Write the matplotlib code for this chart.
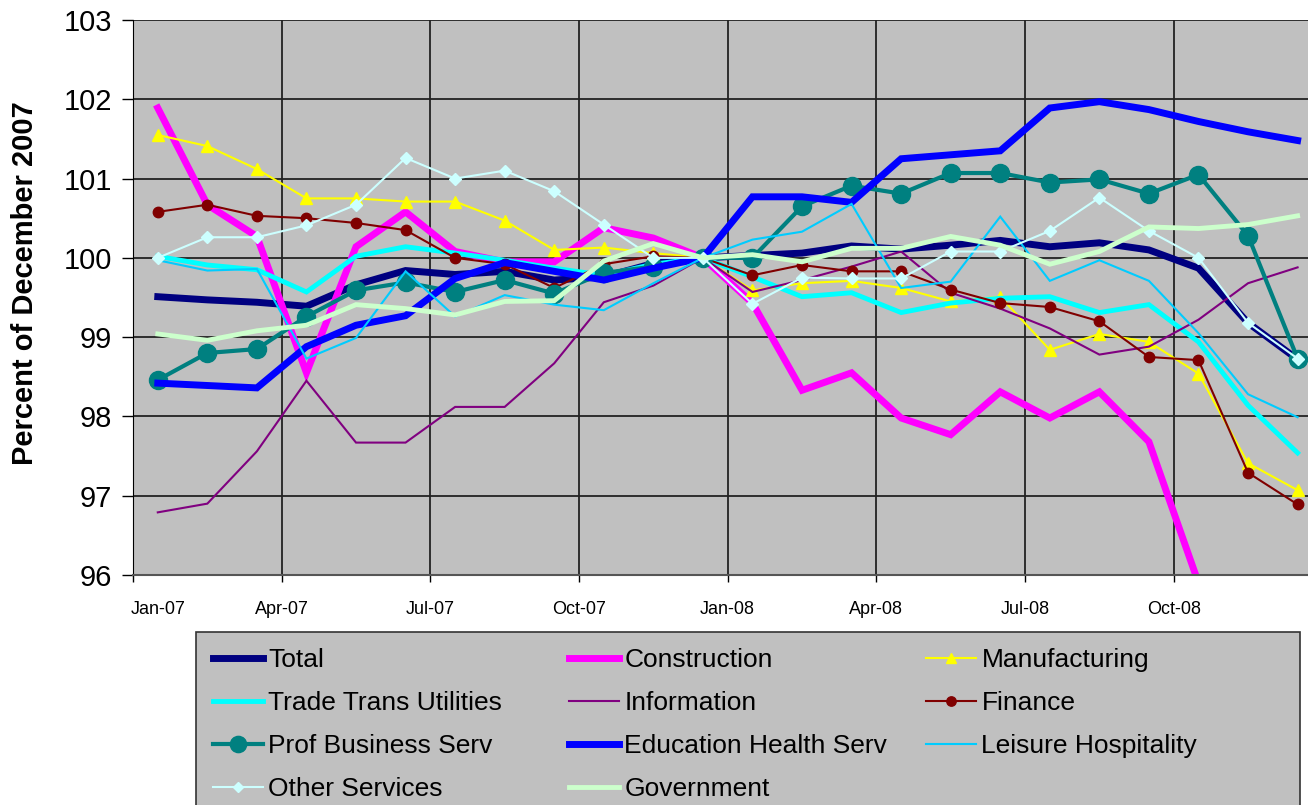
import matplotlib
matplotlib.use("Agg")
import matplotlib.pyplot as plt
from matplotlib.patches import Rectangle
from matplotlib.transforms import ScaledTranslation

plt.rcParams['font.family'] = ['Liberation Sans', 'DejaVu Sans']

months = list(range(24))  # Jan-07 .. Dec-08
tick_labels = ['Jan-07', 'Apr-07', 'Jul-07', 'Oct-07', 'Jan-08', 'Apr-08', 'Jul-08', 'Oct-08']

total = [99.51, 99.47, 99.44, 99.39, 99.66, 99.84, 99.79, 99.83, 99.72, 99.76, 99.93, 100.0,
         100.03, 100.06, 100.15, 100.11, 100.16, 100.22, 100.14, 100.19, 100.10, 99.87, 99.18, 98.72]
construction = [101.89, 100.67, 100.27, 98.55, 100.14, 100.58, 100.08, 99.95, 99.95, 100.38, 100.25, 100.0,
                99.43, 98.33, 98.55, 97.98, 97.77, 98.31, 97.98, 98.31, 97.68, 95.9, 94.9, 94.2]
manufacturing = [101.55, 101.41, 101.12, 100.75, 100.75, 100.71, 100.71, 100.47, 100.10, 100.13, 100.06, 100.0,
                 99.59, 99.68, 99.71, 99.62, 99.45, 99.51, 98.84, 99.04, 98.94, 98.54, 97.41, 97.07]
trade = [100.02, 99.91, 99.85, 99.57, 100.02, 100.14, 100.06, 99.97, 99.87, 99.78, 99.92, 100.0,
         99.76, 99.51, 99.56, 99.31, 99.43, 99.49, 99.51, 99.31, 99.41, 98.94, 98.14, 97.54]
information = [96.79, 96.90, 97.56, 98.45, 97.67, 97.67, 98.12, 98.12, 98.67, 99.44, 99.65, 100.0,
               99.57, 99.72, 99.89, 100.08, 99.56, 99.36, 99.11, 98.78, 98.88, 99.22, 99.68, 99.88]
finance = [100.58, 100.67, 100.53, 100.50, 100.44, 100.35, 100.00, 99.92, 99.62, 99.92, 100.02, 100.0,
           99.78, 99.91, 99.83, 99.83, 99.60, 99.43, 99.38, 99.20, 98.75, 98.71, 97.29, 96.89]
prof_business = [98.46, 98.80, 98.85, 99.26, 99.59, 99.69, 99.57, 99.72, 99.55, 99.81, 99.89, 100.0,
                 100.0, 100.65, 100.91, 100.81, 101.07, 101.07, 100.95, 100.99, 100.81, 101.05, 100.28, 98.73]
education = [98.42, 98.39, 98.36, 98.88, 99.15, 99.27, 99.74, 99.94, 99.83, 99.72, 99.87, 100.0,
             100.77, 100.77, 100.70, 101.25, 101.30, 101.35, 101.89, 101.97, 101.87, 101.72, 101.59, 101.48]
leisure = [99.97, 99.84, 99.86, 98.73, 98.99, 99.83, 99.26, 99.53, 99.41, 99.34, 99.68, 100.0,
           100.23, 100.33, 100.68, 99.62, 99.70, 100.52, 99.71, 99.97, 99.71, 99.05, 98.28, 97.99]
other_services = [100.0, 100.26, 100.26, 100.41, 100.67, 101.26, 101.0, 101.1, 100.84, 100.42, 100.0, 100.0,
                  99.42, 99.75, 99.74, 99.74, 100.08, 100.08, 100.34, 100.76, 100.34, 100.0, 99.18, 98.73]
government = [99.04, 98.96, 99.08, 99.15, 99.41, 99.36, 99.28, 99.45, 99.46, 99.96, 100.18, 100.0,
              100.04, 99.95, 100.12, 100.12, 100.27, 100.16, 99.92, 100.08, 100.39, 100.37, 100.42, 100.53]

series = [
    ('Total', total, dict(color='#000080', lw=5)),
    ('Construction', construction, dict(color='#FF00FF', lw=5)),
    ('Manufacturing', manufacturing, dict(color='#FFFF00', lw=1.5, marker='^', ms=8)),
    ('Trade Trans Utilities', trade, dict(color='#00FFFF', lw=3.5)),
    ('Information', information, dict(color='#800080', lw=1.5)),
    ('Finance', finance, dict(color='#800000', lw=1.5, marker='o', ms=7.5)),
    ('Prof Business Serv', prof_business, dict(color='#008080', lw=3, marker='o', ms=13)),
    ('Education Health Serv', education, dict(color='#0000FF', lw=5)),
    ('Leisure Hospitality', leisure, dict(color='#00CCFF', lw=1.5)),
    ('Other Services', other_services, dict(color='#CCFFFF', lw=1.5, marker='D', ms=6)),
    ('Government', government, dict(color='#CCFFCC', lw=3.5)),
]

W, H = 1308, 805
fig = plt.figure(figsize=(W / 100, H / 100), dpi=100)
fig.patch.set_facecolor('white')
ax = fig.add_axes([133 / W, (H - 575) / H, (W - 133) / W, 555 / H])
ax.set_facecolor('#C0C0C0')

handles = {}
for name, vals, st in series:
    ln, = ax.plot(months, vals, solid_joinstyle='miter', markeredgecolor=st['color'],
                  markerfacecolor=st['color'], label=name, **st)
    handles[name] = ln

ax.set_ylim(96, 103)
ax.set_xlim(-0.5, 23.21)
ax.set_yticks(range(96, 104))
ax.yaxis.grid(True, color='#222222', lw=1.3)
for xv in [2.5, 5.5, 8.5, 11.5, 14.5, 17.5, 20.5]:
    ax.axvline(xv, color='#222222', lw=1.3, zorder=0.5)
ax.set_axisbelow(True)

ax.set_xticks([-0.5, 2.5, 5.5, 8.5, 11.5, 14.5, 17.5, 20.5])
ax.set_xticklabels(tick_labels)
ax.tick_params(axis='x', length=5, width=1, labelsize=13, pad=14, direction='out')
ax.tick_params(axis='y', length=8, width=1, labelsize=21, pad=7, direction='out')
first = ax.get_xticklabels()[0]
first.set_transform(first.get_transform() + ScaledTranslation(0.25, 0, fig.dpi_scale_trans))

for s in ['top', 'right']:
    ax.spines[s].set_visible(False)
ax.spines['left'].set_color('black')
ax.spines['bottom'].set_color('#555555')
ax.spines['bottom'].set_linewidth(1.5)

fig.text(25 / W, 1 - 283 / H, 'Percent of December 2007', rotation=90, fontsize=21,
         fontweight='bold', ha='center', va='center')

# legend box
fig.patches.append(Rectangle((196 / W, -0.05), (1300 - 196) / W, 0.05 + (H - 632) / H,
                             transform=fig.transFigure, facecolor='#C0C0C0',
                             edgecolor='#333333', lw=1.2, zorder=0))

cols = [
    (['Total', 'Trade Trans Utilities', 'Prof Business Serv', 'Other Services'], 213),
    (['Construction', 'Information', 'Education Health Serv', 'Government'], 569),
    (['Manufacturing', 'Finance', 'Leisure Hospitality'], 926),
]
for names, x0 in cols:
    fig.legend([handles[n] for n in names], names, loc='upper left',
               bbox_to_anchor=(x0 / W, 1 - 648 / H), frameon=False, fontsize=19,
               handlelength=1.9, handletextpad=0.2, labelspacing=0.72, borderpad=0,
               borderaxespad=0, markerscale=0.9)

fig.savefig('out.png', dpi=100)
